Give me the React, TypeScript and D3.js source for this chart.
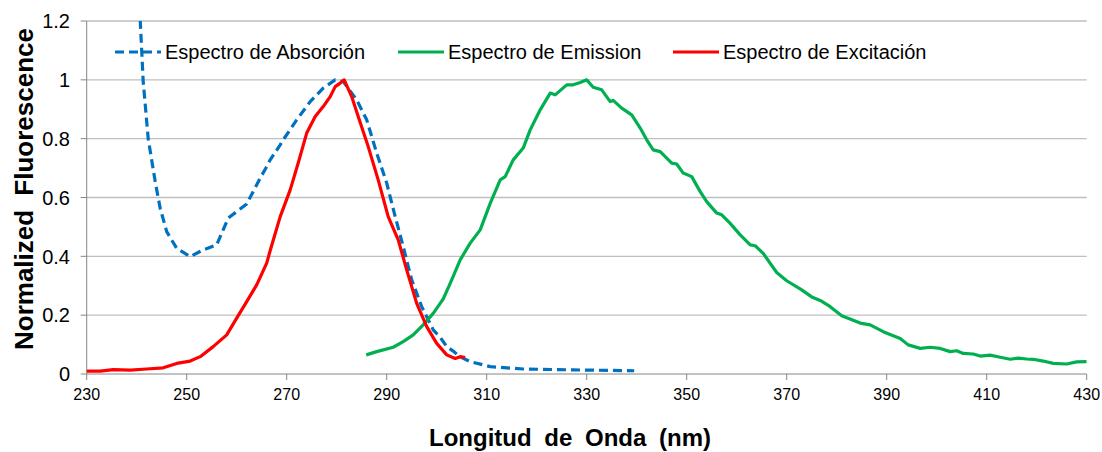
import * as d3 from "d3";

// [wavelength nm, normalized value]
const absorption: [number, number][] = [
  [240.7, 1.204], [241.3, 0.994], [242.3, 0.8], [243.7, 0.654], [244.7, 0.563],
  [246.0, 0.484], [248.0, 0.427], [250.7, 0.399], [253.3, 0.422], [256.0, 0.439],
  [258.3, 0.53], [260.0, 0.552], [262.0, 0.578], [264.7, 0.666], [266.0, 0.705],
  [266.7, 0.728], [268.7, 0.779], [269.3, 0.796], [272.0, 0.864], [274.7, 0.926],
  [277.3, 0.972], [279.7, 1.0], [281.3, 0.994], [284.0, 0.932], [286.0, 0.864],
  [288.0, 0.751], [290.0, 0.649], [291.7, 0.535], [293.3, 0.433], [295.0, 0.32],
  [297.0, 0.229], [299.3, 0.15], [300.7, 0.125], [302.0, 0.093], [303.3, 0.078],
  [304.5, 0.06], [306.7, 0.042], [310.7, 0.025], [317.3, 0.017], [327.3, 0.014],
  [339.5, 0.011],
];

const emission: [number, number][] = [
  [285.9, 0.065], [288.0, 0.076], [291.3, 0.091], [293.3, 0.11], [295.3, 0.133],
  [297.3, 0.167], [299.3, 0.206], [300.7, 0.24], [301.3, 0.255], [302.7, 0.308],
  [304.7, 0.388], [306.7, 0.445], [308.7, 0.49], [310.7, 0.58], [312.7, 0.66],
  [313.7, 0.671], [315.3, 0.728], [317.3, 0.768], [318.7, 0.83], [320.7, 0.898],
  [322.7, 0.955], [323.7, 0.949], [326.0, 0.983], [327.3, 0.983], [328.7, 0.991],
  [330.0, 1.0], [331.3, 0.975], [333.0, 0.966], [334.7, 0.926], [335.3, 0.93],
  [337.0, 0.904], [339.0, 0.881], [340.7, 0.836], [342.0, 0.796], [343.3, 0.762],
  [344.7, 0.756], [347.0, 0.717], [348.0, 0.714], [349.3, 0.683], [351.0, 0.671],
  [352.7, 0.62], [354.0, 0.586], [356.0, 0.547], [357.0, 0.541], [358.7, 0.512],
  [360.7, 0.473], [362.7, 0.439], [363.7, 0.436], [365.3, 0.41], [368.0, 0.345],
  [370.0, 0.317], [373.0, 0.286], [375.0, 0.262], [376.7, 0.25], [378.7, 0.229],
  [381.0, 0.198], [384.7, 0.173], [386.7, 0.167], [389.3, 0.144], [392.7, 0.121],
  [394.3, 0.099], [396.7, 0.087], [398.7, 0.091], [400.7, 0.087], [402.7, 0.076],
  [404.0, 0.079], [405.3, 0.07], [407.3, 0.068], [408.7, 0.061], [410.7, 0.064],
  [412.7, 0.057], [414.7, 0.05], [416.3, 0.054], [418.0, 0.051], [419.3, 0.05],
  [421.3, 0.044], [423.3, 0.036], [426.0, 0.034], [428.0, 0.041], [430.0, 0.042],
];

const excitation: [number, number][] = [
  [230.0, 0.01], [232.7, 0.01], [235.3, 0.015], [238.7, 0.013], [242.0, 0.017],
  [245.3, 0.021], [248.0, 0.036], [250.7, 0.044], [252.7, 0.059], [255.3, 0.093],
  [258.0, 0.133], [260.0, 0.19], [262.0, 0.246], [264.0, 0.303], [266.0, 0.377],
  [266.7, 0.42], [268.7, 0.535], [270.7, 0.626], [272.3, 0.717], [274.0, 0.819],
  [275.7, 0.875], [277.3, 0.909], [278.7, 0.943], [279.7, 0.977], [280.7, 0.989],
  [281.5, 1.0], [283.0, 0.943], [284.3, 0.875], [286.3, 0.773], [288.3, 0.66],
  [290.3, 0.535], [292.3, 0.456], [294.0, 0.354], [296.0, 0.24], [298.0, 0.161],
  [300.0, 0.104], [302.0, 0.065], [303.7, 0.053], [304.7, 0.059], [305.7, 0.056],
];

const xTicks = [230, 250, 270, 290, 310, 330, 350, 370, 390, 410, 430];
const yTicks = [0, 0.2, 0.4, 0.6, 0.8, 1, 1.2];

const seriesNames = ["Espectro de Absorción", "Espectro de Emission", "Espectro de Excitación"];
const seriesColors = ["#0070C0", "#00B050", "#FF0000"];

const width = 1102;
const height = 452;
const margin = { top: 21, right: 15.3, bottom: 78, left: 86.7 };
const font = "'Liberation Sans', Arial, sans-serif";

export default function App() {
  const x = d3
    .scaleLinear()
    .domain([230, 430])
    .range([margin.left, width - margin.right]);
  const y = d3
    .scaleLinear()
    .domain([0, 1.2])
    .range([height - margin.bottom, margin.top]);

  const line = d3
    .line<[number, number]>()
    .x((d) => x(d[0]))
    .y((d) => y(d[1]));

  const data = [absorption, emission, excitation];
  const legendX = [115, 398, 673];
  const legendY = 52;

  return (
    <svg
      width={width}
      height={height}
      style={{ position: "absolute", left: 0, top: 0, background: "#fff" }}
      fontFamily={font}
    >
      <defs>
        <clipPath id="plot-clip">
          <rect
            x={margin.left}
            y={margin.top}
            width={width - margin.left - margin.right}
            height={height - margin.top - margin.bottom}
          />
        </clipPath>
      </defs>

      {/* grid */}
      {yTicks.slice(1).map((t) => (
        <line
          key={t}
          x1={x(230)}
          x2={x(430)}
          y1={y(t)}
          y2={y(t)}
          stroke="#bfbfbf"
          strokeWidth={1.3}
        />
      ))}

      {/* axes */}
      <line x1={x(230)} x2={x(230)} y1={y(0)} y2={y(1.2)} stroke="#868686" strokeWidth={1} />
      <line x1={x(230)} x2={x(430)} y1={y(0)} y2={y(0)} stroke="#868686" strokeWidth={1} />
      {yTicks.map((t) => (
        <g key={t}>
          <line x1={x(230) - 6} x2={x(230)} y1={y(t)} y2={y(t)} stroke="#868686" />
          <text
            x={70}
            y={y(t)}
            dy="0.36em"
            textAnchor="end"
            fontSize={20}
            fill="#000"
          >
            {d3.format("~g")(t)}
          </text>
        </g>
      ))}
      {xTicks.map((t) => (
        <g key={t}>
          <line x1={x(t)} x2={x(t)} y1={y(0)} y2={y(0) + 6} stroke="#868686" />
          <text x={x(t)} y={y(0) + 26} textAnchor="middle" fontSize={16} fill="#000">
            {t}
          </text>
        </g>
      ))}

      {/* series */}
      <g clipPath="url(#plot-clip)">
        {data.map((d, i) => (
          <path
            key={i}
            d={line(d) ?? ""}
            fill="none"
            stroke={seriesColors[i]}
            strokeWidth={3.2}
            strokeDasharray={i === 0 ? "9,5" : undefined}
            strokeLinejoin="round"
          />
        ))}
      </g>

      {/* legend */}
      {seriesNames.map((name, i) => (
        <g key={name}>
          <line
            x1={legendX[i]}
            x2={legendX[i] + 46}
            y1={legendY}
            y2={legendY}
            stroke={seriesColors[i]}
            strokeWidth={3.2}
            strokeDasharray={i === 0 ? "9,5" : undefined}
          />
          <text x={legendX[i] + 50} y={legendY} dy="0.36em" fontSize={20} fill="#000">
            {name}
          </text>
        </g>
      ))}

      {/* axis titles */}
      <text
        x={570}
        y={446}
        textAnchor="middle"
        fontSize={24}
        fontWeight="bold"
        wordSpacing={6}
        fill="#000"
      >
        Longitud de Onda (nm)
      </text>
      <text
        transform={`translate(33,189) rotate(-90)`}
        textAnchor="middle"
        fontSize={26}
        fontWeight="bold"
        wordSpacing={7}
        fill="#000"
      >
        Normalized Fluorescence
      </text>
    </svg>
  );
}
